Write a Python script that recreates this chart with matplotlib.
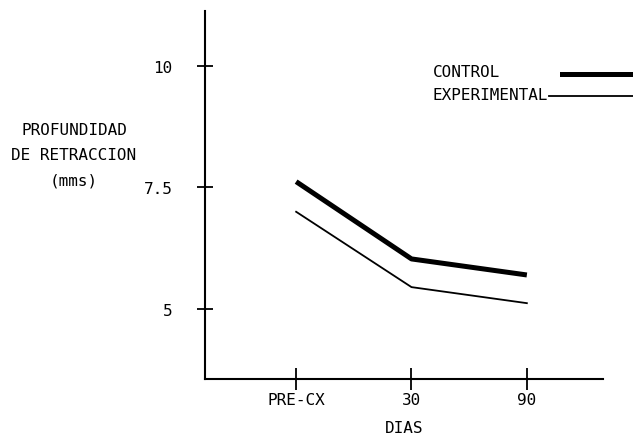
import matplotlib
matplotlib.use('Agg')
import matplotlib.pyplot as plt
from matplotlib.lines import Line2D

# Values
dias = ['PRE-CX', '30', '90']
control = [7.62, 6.03, 5.70]
experimental = [7.00, 5.45, 5.12]
yticks = [5, 7.5, 10]
ytick_labels = ['5', '7.5', '10']

FONT = 'DejaVu Sans Mono'
FS = 11.5
W, H = 633, 439

plt.rcParams['font.family'] = FONT

fig = plt.figure(figsize=(W / 100, H / 100), dpi=100)
ax = fig.add_axes([205 / W, (H - 380) / H, 398 / W, 368 / H])

x = list(range(len(dias)))
ax.plot(x, control, color='black', lw=3.6, solid_capstyle='butt')
ax.plot(x, experimental, color='black', lw=1.3)

ax.set_xlim(-0.79, 2.66)
ax.set_ylim(3.56, 11.13)

for s in ['top', 'right']:
    ax.spines[s].set_visible(False)
for s in ['left', 'bottom']:
    ax.spines[s].set_linewidth(1.5)

ax.set_xticks(x)
ax.set_xticklabels(dias, fontsize=FS)
ax.set_yticks(yticks)
ax.set_yticklabels(ytick_labels, fontsize=FS)
ax.tick_params(axis='x', direction='inout', length=16, width=1.3, pad=1.5)
ax.tick_params(axis='y', direction='inout', length=11, width=1.3, pad=18)

ax.set_xlabel('DIAS', fontsize=FS, labelpad=9)

fig.text(74 / W, 1 - 156 / H, 'PROFUNDIDAD\nDE RETRACCION\n(mms)',
         ha='center', va='center', fontsize=FS, linespacing=1.85)

# legend drawn by hand: label on the left, line running to the edge
fig.text(433 / W, 1 - 73 / H, 'CONTROL', ha='left', va='center', fontsize=FS)
fig.text(433 / W, 1 - 96 / H, 'EXPERIMENTAL', ha='left', va='center', fontsize=FS)
fig.add_artist(Line2D([562 / W, 1.0], [1 - 75 / H, 1 - 75 / H],
                      transform=fig.transFigure, color='black', lw=3.6))
fig.add_artist(Line2D([549 / W, 1.0], [1 - 97 / H, 1 - 97 / H],
                      transform=fig.transFigure, color='black', lw=1.3))

fig.savefig('out.png', dpi=100)
